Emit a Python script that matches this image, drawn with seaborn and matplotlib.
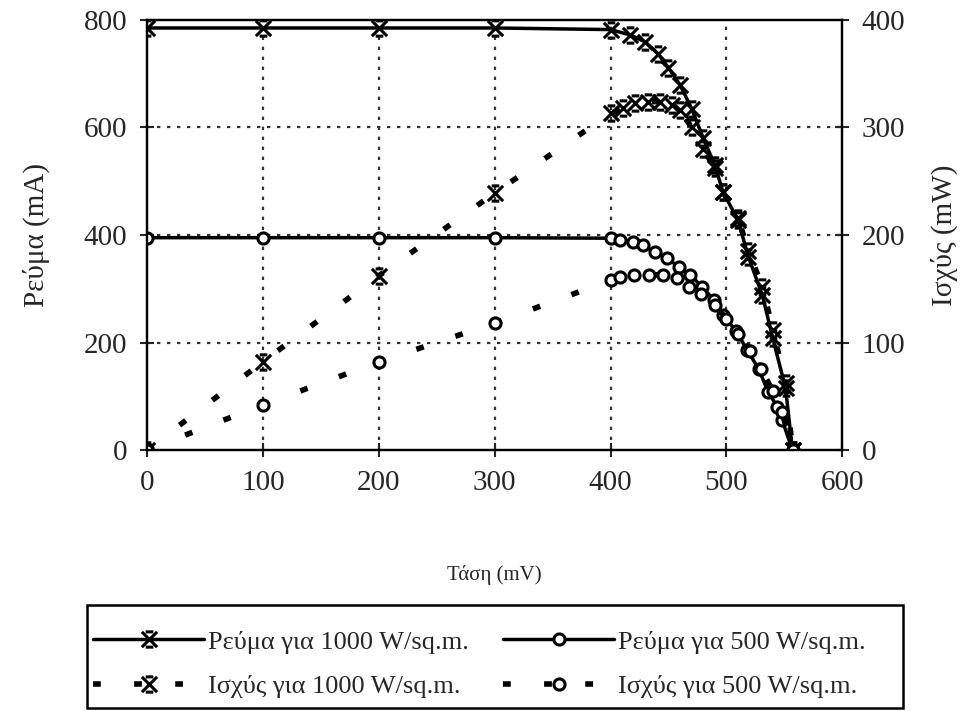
import numpy as np
import pandas as pd
import seaborn as sns
import matplotlib.pyplot as plt
from matplotlib.path import Path
from matplotlib.patches import Rectangle

# Τιμές διαβασμένες από το διάγραμμα
v_i1000 = [0, 100, 200, 300, 400, 417, 430, 441, 450, 460, 470, 480, 490, 497, 510, 519, 531, 540, 551, 557]
i1000 = [785, 785, 785, 785, 782, 772, 759, 737, 711, 679, 635, 580, 530, 480, 428, 359, 288, 208, 115, 0]

v_p1000 = [0, 100, 200, 300, 400, 411, 421, 432, 443, 453, 460, 470, 480, 490, 497, 510, 519, 531, 540, 551, 557]
p1000 = [0, 82, 162, 239, 313, 318, 323, 324, 324, 321, 316, 300, 280, 262, 240, 216, 185, 152, 112, 62, 0]

v_i500 = [0, 100, 200, 300, 400, 408, 419, 428, 438, 449, 459, 469, 479, 489, 497, 508, 518, 528, 536, 544, 548, 557]
i500 = [395, 395, 395, 395, 394, 391, 387, 381, 368, 357, 340, 326, 303, 280, 252, 222, 186, 150, 108, 80, 56, 0]

v_p500 = [0, 100, 200, 300, 400, 408, 420, 433, 445, 457, 468, 478, 490, 500, 510, 520, 530, 540, 548, 557]
p500 = [0, 42, 82, 118, 158, 161, 163, 163, 163, 160, 152, 145, 135, 122, 108, 92, 75, 55, 35, 0]

labels = ['Ρεύμα για 1000 W/sq.m.', 'Ισχύς για 1000 W/sq.m.',
          'Ρεύμα για 500 W/sq.m.', 'Ισχύς για 500 W/sq.m.']

sns.set_style('ticks')
plt.rcParams['font.family'] = ['Liberation Serif', 'DejaVu Serif']

# σημάδι "Χ" με μικρές οριζόντιες γραμμές πάνω και κάτω
star = Path([(-1, -1), (1, 1), (-1, 1), (1, -1), (-0.5, 1), (0.5, 1), (-0.5, -1), (0.5, -1)],
            [Path.MOVETO, Path.LINETO] * 4)

fig = plt.figure(figsize=(9.66, 7.11), dpi=100)
ax = fig.add_axes([0.152, 0.367, 0.720, 0.605])
ax2 = ax.twinx()

dash = (0, (1.4, 6))
kw_star = dict(marker=star, markersize=11, markeredgewidth=2.2, markeredgecolor='black',
               markerfacecolor='none', color='black')
kw_circ = dict(marker='o', markersize=8, markeredgewidth=2.2, markeredgecolor='black',
               markerfacecolor='white', color='black')

sns.lineplot(x=v_i1000, y=i1000, ax=ax, sort=False, linewidth=2.5, linestyle='-', **kw_star)
sns.lineplot(x=v_i500, y=i500, ax=ax, sort=False, linewidth=2.5, linestyle='-', **kw_circ)
sns.lineplot(x=v_p1000, y=p1000, ax=ax2, sort=False, linewidth=4, linestyle=dash, **kw_star)
sns.lineplot(x=v_p500, y=p500, ax=ax2, sort=False, linewidth=4, linestyle=dash, **kw_circ)

ax.set_xlim(0, 600)
ax.set_ylim(0, 800)
ax2.set_ylim(0, 400)
ax.set_xticks(range(0, 601, 100))
ax.set_yticks(range(0, 801, 200))
ax2.set_yticks(range(0, 401, 100))

for a in (ax, ax2):
    a.tick_params(direction='inout', length=10, width=1.5, labelsize=21, pad=9)
    for s in a.spines.values():
        s.set_linewidth(1.6)
        s.set_color('black')
    a.set_zorder(1)
ax.patch.set_visible(False)

# πλέγμα με τελείες
for x in range(100, 600, 100):
    ax.axvline(x, color='#333333', linestyle=(0, (1.5, 3)), linewidth=1.6, zorder=0)
for y in range(200, 800, 200):
    ax.axhline(y, color='#333333', linestyle=(0, (1.5, 3)), linewidth=1.6, zorder=0)

ax.set_ylabel('Ρεύμα (mA)', fontsize=21, labelpad=24)
ax2.set_ylabel('Ισχύς (mW)', fontsize=21, labelpad=18, rotation=90)
ax.set_xlabel('Τάση (mV)', fontsize=15, labelpad=50)

handles = [ax.lines[0], ax2.lines[0], ax.lines[1], ax2.lines[1]]
leg = fig.legend(handles, labels, ncol=2, loc='center left',
                 bbox_to_anchor=(0.091, 0.066), frameon=False,
                 borderaxespad=0, borderpad=0.2, fontsize=19, handlelength=4.2,
                 numpoints=1, handletextpad=0.15, columnspacing=1.3, labelspacing=0.8)
fig.patches.append(Rectangle((0.090, 0.004), 0.845, 0.145, transform=fig.transFigure,
                             fill=False, edgecolor='black', linewidth=1.8))

fig.savefig('out.png', dpi=100)
